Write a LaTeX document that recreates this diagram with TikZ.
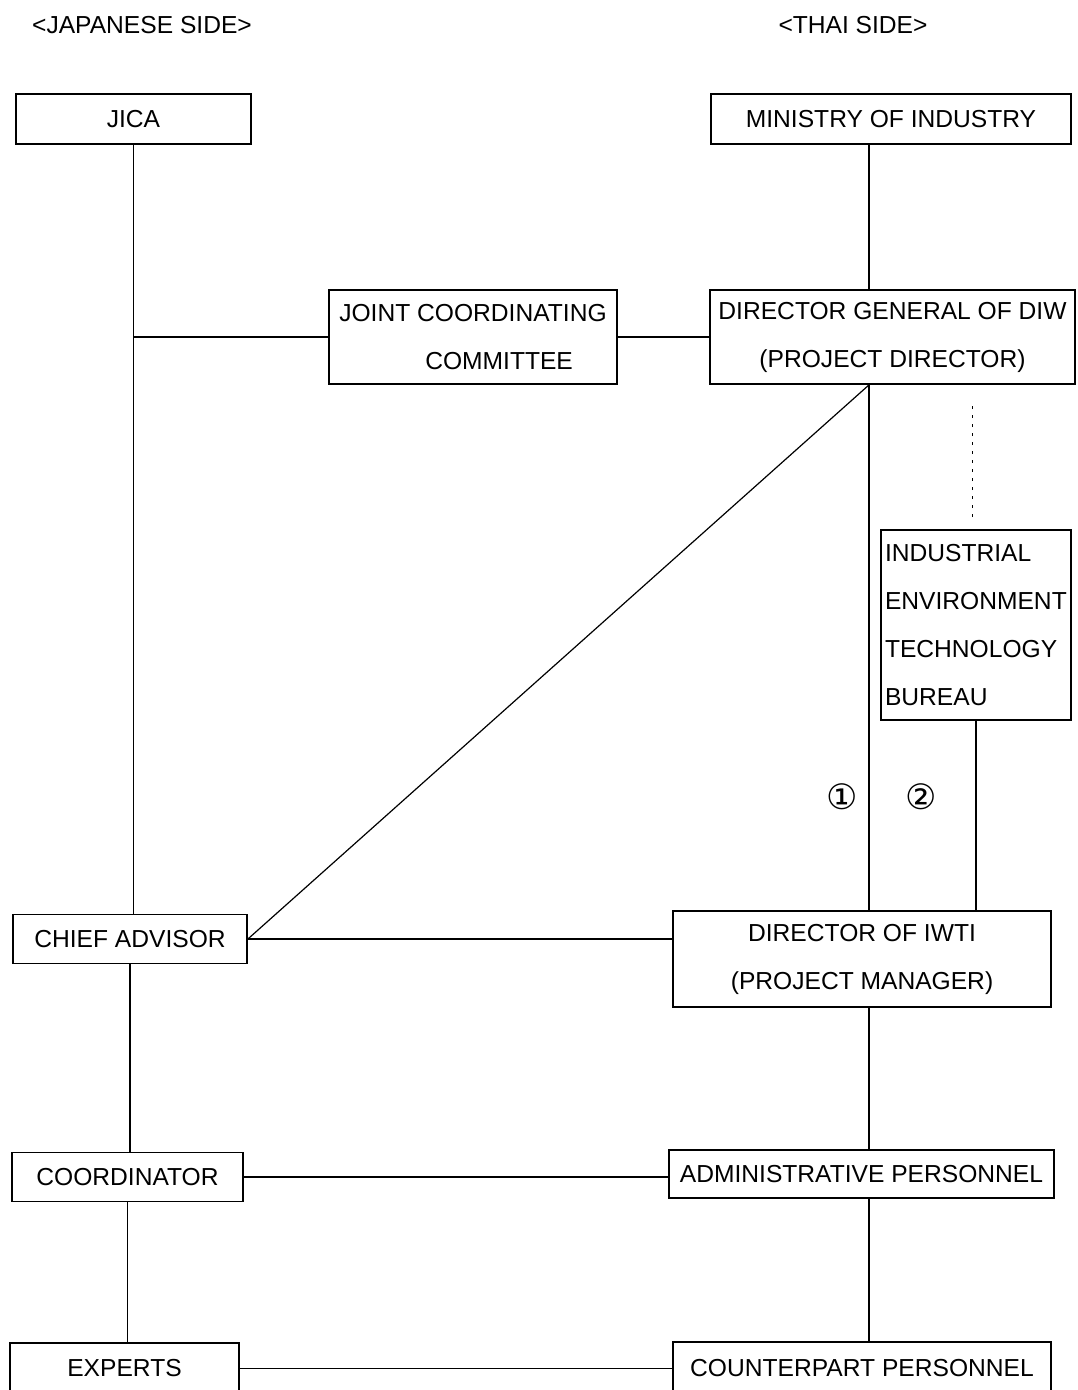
\documentclass[tikz,border=0pt]{standalone}
\usepackage{fontspec}
\setmainfont{Liberation Sans}
\newfontfamily\circfont{DejaVu Sans}
\usetikzlibrary{calc}

\tikzset{
  orgbox/.style={draw, line width=0.9pt, inner sep=2pt, align=center,
    font=\fontsize{12.3}{24}\selectfont},
  orgline/.style={line width=0.6pt},
  infoline/.style={line width=0.5pt, dash pattern=on 1.5pt off 3pt},
  sidelabel/.style={font=\fontsize{12.3}{15}\selectfont}
}

\begin{document}
\begin{tikzpicture}[x=0.5pt, y=-0.5pt]
\useasboundingbox (0,0) rectangle (1077,1390);
% side headings
\node[sidelabel] (jside) at (142,25) {<JAPANESE SIDE>};
\node[sidelabel] (tside) at (853,25) {<THAI SIDE>};
% japanese side
\node[orgbox, minimum width=117.5pt, minimum height=25pt] (jica) at (133.5,119) {JICA};
\node[orgbox, minimum width=117pt, minimum height=24.5pt] (chief) at (130,939) {CHIEF ADVISOR};
\node[orgbox, minimum width=115.5pt, minimum height=24.5pt] (coord) at (127.5,1177) {COORDINATOR};
\node[orgbox, minimum width=114.5pt, minimum height=25.5pt] (experts) at (124.5,1368.5) {EXPERTS};
% middle
\node[orgbox, align=left, minimum width=144pt, minimum height=47pt] (jcc) at (473,337)
  {JOINT COORDINATING\\\hspace*{43pt}COMMITTEE};
% thai side
\node[orgbox, minimum width=180pt, minimum height=25pt] (moi) at (891,119) {MINISTRY OF INDUSTRY};
\node[orgbox, minimum width=182.5pt, minimum height=47pt] (dg) at (892.5,337)
  {DIRECTOR GENERAL OF DIW\\(PROJECT DIRECTOR)};
\node[orgbox, align=left, text width=91pt, minimum height=95pt] (ietb) at (976,625)
  {INDUSTRIAL\\ENVIRONMENT\\TECHNOLOGY\\BUREAU};
\node[orgbox, minimum width=189pt, minimum height=48pt] (iwti) at (862,959)
  {DIRECTOR OF IWTI\\(PROJECT MANAGER)};
\node[orgbox, minimum width=192.5pt, minimum height=24pt] (admin) at (861.5,1174) {ADMINISTRATIVE PERSONNEL};
\node[orgbox, minimum width=189pt, minimum height=26pt] (cpart) at (862,1368) {COUNTERPART PERSONNEL};
\coordinate (thai) at (869,0);
% numbers
\node[font=\circfont\fontsize{17.5}{18}\selectfont] (one) at (842,797) {①};
\node[font=\circfont\fontsize{17.5}{18}\selectfont] (two) at (921,797) {②};
% japanese vertical line
\draw[orgline] (jica.south) -- (jica.south |- chief.north);
\draw[orgline] (chief.south) -- (chief.south |- coord.north);
\draw[orgline] (coord.south) -- (coord.south |- experts.north);
% thai vertical line
\draw[orgline] (thai |- moi.south) -- (thai |- dg.north);
\draw[orgline] (thai |- dg.south) -- (thai |- iwti.north);
\draw[orgline] (thai |- iwti.south) -- (thai |- admin.north);
\draw[orgline] (thai |- admin.south) -- (thai |- cpart.north);
% bureau
\draw[infoline] ($(ietb.north)+(-4,-12)$) -- ($(ietb.north |- dg.south)+(-4,16)$);
\draw[orgline] (ietb.south) -- (ietb.south |- iwti.north);
% horizontal lines
\draw[orgline] (jica.south |- jcc.west) -- (jcc.west);
\draw[orgline] (jcc.east) -- (dg.west);
\draw[orgline] (chief.east) -- (chief.east -| iwti.west);
\draw[orgline] (coord.east) -- (coord.east -| admin.west);
\draw[orgline] (experts.east) -- (experts.east -| cpart.west);
% diagonal
\draw[orgline] (thai |- dg.south) -- (chief.east);
\end{tikzpicture}
\end{document}
